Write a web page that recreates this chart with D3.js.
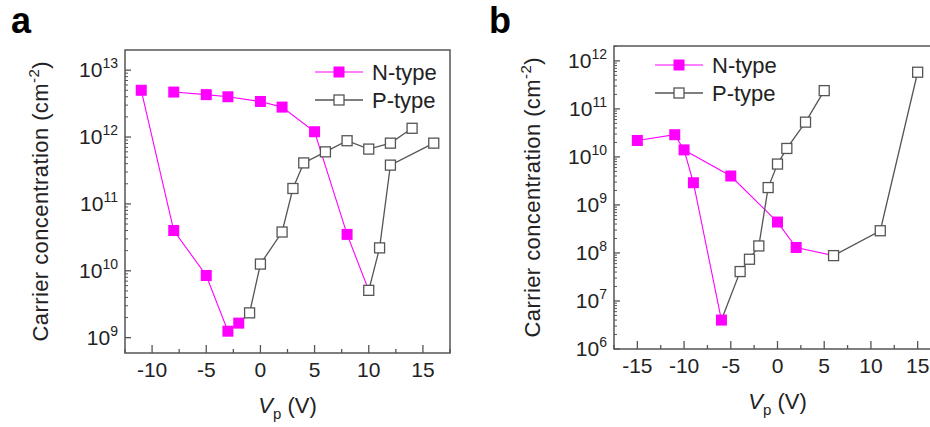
<!DOCTYPE html>
<html><head><meta charset="utf-8">
<script src="https://cdn.jsdelivr.net/npm/d3@7"></script>
<style>
body { margin: 0; background: #fff; }
svg { display: block; font-family: Arial, "Liberation Sans", sans-serif; }
</style>
</head><body>
<svg id="fig" width="930" height="427"></svg>
<script>
// ---- panel a : Vp (V), carrier concentration (cm^-2)
var nA_sweep1 = [[-11, 5e12], [-8, 4e10], [-5, 8.5e9], [-3, 1.25e9], [-2, 1.65e9]];
var nA_sweep2 = [[-8, 4.7e12], [-5, 4.3e12], [-3, 4e12], [0, 3.4e12], [2, 2.8e12], [5, 1.2e12], [8, 3.5e10]];
var pA_sweep1 = [[-1, 2.35e9], [0, 1.26e10], [2, 3.8e10], [3, 1.7e11], [4, 4.1e11], [6, 6e11], [8, 8.8e11], [10, 6.6e11], [12, 8.1e11], [14, 1.35e12]];
var pA_sweep2 = [[10, 5.1e9], [11, 2.2e10], [12, 3.8e11], [16, 8.1e11]];
var xTicksA = [-10, -5, 0, 5, 10, 15];
var decadesA = [9, 10, 11, 12, 13];

// ---- panel b
var nB_sweep1 = [[-15, 2.2e10], [-11, 2.9e10], [-10, 1.4e10], [-9, 2.9e9], [-6, 4e6]];
var nB_sweep2 = [[-5, 4e9], [0, 4.4e8], [2, 1.3e8]];
var pB_sweep1 = [[-4, 4.1e7], [-3, 7.4e7], [-2, 1.4e8], [-1, 2.3e9], [0, 7.1e9], [1, 1.5e10], [3, 5.3e10], [5, 2.4e11]];
var pB_sweep2 = [[6, 8.8e7], [11, 2.9e8], [15, 5.8e11]];
var xTicksB = [-15, -10, -5, 0, 5, 10, 15];
var decadesB = [6, 7, 8, 9, 10, 11, 12];

var legendNames = ["N-type", "P-type"];

var svg = d3.select("#fig");
var pink = "#ff00ff", grey = "#555", txt = "#222";

function drawPanel(cfg) {
  var x = d3.scaleLinear().domain(cfg.xDomain).range([cfg.left, cfg.right]);
  var y = d3.scaleLog().domain(cfg.yDomain).range([cfg.bottom, cfg.top]);
  var g = svg.append("g");

  var line = d3.line().x(function (d) { return x(d[0]) }).y(function (d) { return y(d[1]) });

  // lines (each series keeps its own colour, joined to the point where the sweep turns)
  cfg.nLines.forEach(function (pts) {
    g.append("path").attr("d", line(pts)).attr("fill", "none").attr("stroke", pink).attr("stroke-width", 1.1);
  });
  cfg.pLines.forEach(function (pts) {
    g.append("path").attr("d", line(pts)).attr("fill", "none").attr("stroke", grey).attr("stroke-width", 1.3);
  });

  var s = 11;
  g.selectAll(".nm").data(cfg.nPts).enter().append("rect")
    .attr("x", function (d) { return x(d[0]) - s / 2 })
    .attr("y", function (d) { return y(d[1]) - s / 2 })
    .attr("width", s).attr("height", s).attr("fill", pink);
  var sp = 10;
  g.selectAll(".pm").data(cfg.pPts).enter().append("rect")
    .attr("x", function (d) { return x(d[0]) - sp / 2 })
    .attr("y", function (d) { return y(d[1]) - sp / 2 })
    .attr("width", sp).attr("height", sp).attr("fill", "#fff")
    .attr("stroke", grey).attr("stroke-width", 1.3);

  // frame
  g.append("rect").attr("x", cfg.left).attr("y", cfg.top)
    .attr("width", cfg.right - cfg.left).attr("height", cfg.bottom - cfg.top)
    .attr("fill", "none").attr("stroke", grey).attr("stroke-width", 1.5);

  // x ticks, inside
  var step = cfg.xTicks[1] - cfg.xTicks[0];
  var minorX = d3.range(cfg.xDomain[0], cfg.xDomain[1] + 0.01, step / 2)
    .filter(function (v) { return cfg.xTicks.indexOf(v) < 0 });
  g.selectAll(".xt").data(cfg.xTicks).enter().append("line")
    .attr("x1", function (d) { return x(d) }).attr("x2", function (d) { return x(d) })
    .attr("y1", cfg.bottom).attr("y2", cfg.bottom - 8)
    .attr("stroke", grey).attr("stroke-width", 1.3);
  g.selectAll(".xm").data(minorX).enter().append("line")
    .attr("x1", function (d) { return x(d) }).attr("x2", function (d) { return x(d) })
    .attr("y1", cfg.bottom).attr("y2", cfg.bottom - 4)
    .attr("stroke", grey).attr("stroke-width", 1.3);
  g.selectAll(".xl").data(cfg.xTicks).enter().append("text")
    .attr("x", function (d) { return x(d) }).attr("y", cfg.bottom + 24)
    .attr("text-anchor", "middle").attr("font-size", 21).attr("fill", txt)
    .text(function (d) { return d });

  // y ticks, inside, log minors
  var minorY = [];
  cfg.decades.forEach(function (e) {
    for (var m = 2; m <= 9; m++) {
      var v = m * Math.pow(10, e);
      if (v < cfg.yDomain[1]) minorY.push(v);
    }
  });
  g.selectAll(".yt").data(cfg.decades).enter().append("line")
    .attr("x1", cfg.left).attr("x2", cfg.left + 6)
    .attr("y1", function (d) { return y(Math.pow(10, d)) }).attr("y2", function (d) { return y(Math.pow(10, d)) })
    .attr("stroke", grey).attr("stroke-width", 1.3);
  g.selectAll(".ym").data(minorY).enter().append("line")
    .attr("x1", cfg.left).attr("x2", cfg.left + 3)
    .attr("y1", function (d) { return y(d) }).attr("y2", function (d) { return y(d) })
    .attr("stroke", grey).attr("stroke-width", 1);
  var yl = g.selectAll(".yl").data(cfg.decades).enter().append("text")
    .attr("x", cfg.left - 7).attr("y", function (d) { return y(Math.pow(10, d)) + 7 })
    .attr("text-anchor", "end").attr("font-size", 21).attr("fill", txt);
  yl.append("tspan").text("10");
  yl.append("tspan").attr("dy", -9).attr("font-size", 14).text(function (d) { return d });

  // axis titles
  var xt = g.append("text").attr("x", (cfg.left + cfg.right) / 2).attr("y", cfg.bottom + 60)
    .attr("text-anchor", "middle").attr("font-size", 22).attr("fill", txt);
  xt.append("tspan").attr("font-style", "italic").text("V");
  xt.append("tspan").attr("dy", 6).attr("font-size", 15).text("p");
  xt.append("tspan").attr("dy", -6).text(" (V)");

  var cy = (cfg.top + cfg.bottom) / 2;
  var yt = g.append("text")
    .attr("transform", "translate(" + (cfg.left - cfg.yTitleOff) + "," + cy + ") rotate(-90)")
    .attr("text-anchor", "middle").attr("font-size", 22).attr("fill", txt)
    .attr("textLength", 280).attr("lengthAdjust", "spacing");
  yt.append("tspan").text("Carrier concentration (cm");
  yt.append("tspan").attr("dy", -9).attr("font-size", 15).text("-2");
  yt.append("tspan").attr("dy", 9).text(")");

  // legend
  var lg = g.append("g").attr("transform", "translate(" + cfg.legX + "," + cfg.legY + ")");
  legendNames.forEach(function (name, i) {
    var ly = i * 28;
    var col = i === 0 ? pink : grey;
    lg.append("line").attr("x1", 0).attr("x2", 48).attr("y1", ly).attr("y2", ly)
      .attr("stroke", col).attr("stroke-width", i === 0 ? 1.1 : 1.3);
    if (i === 0) {
      lg.append("rect").attr("x", 24 - s / 2).attr("y", ly - s / 2).attr("width", s).attr("height", s).attr("fill", pink);
    } else {
      lg.append("rect").attr("x", 24 - sp / 2).attr("y", ly - sp / 2).attr("width", sp).attr("height", sp)
        .attr("fill", "#fff").attr("stroke", grey).attr("stroke-width", 1.3);
    }
    lg.append("text").attr("x", 57).attr("y", ly + 7.5).attr("font-size", 22).attr("fill", txt).text(name);
  });

  // panel letter
  svg.append("text").attr("x", cfg.letterX).attr("y", 33)
    .attr("font-size", 36).attr("font-weight", "bold").attr("fill", "#000").text(cfg.letter);
}

drawPanel({
  letter: "a", letterX: 11,
  left: 125, right: 450, top: 50, bottom: 353,
  xDomain: [-12.5, 17.5], yDomain: [5.9e8, 2e13],
  xTicks: xTicksA, decades: decadesA, yTitleOff: 77,
  nLines: [nA_sweep1, nA_sweep2.concat([pA_sweep2[0]])],
  pLines: [[nA_sweep1[nA_sweep1.length - 1]].concat(pA_sweep1), pA_sweep2],
  nPts: nA_sweep1.concat(nA_sweep2), pPts: pA_sweep1.concat(pA_sweep2),
  legX: 315, legY: 72
});

drawPanel({
  letter: "b", letterX: 489,
  left: 614, right: 941, top: 46, bottom: 349,
  xDomain: [-17.5, 17.5], yDomain: [1e6, 2.04e12],
  xTicks: xTicksB, decades: decadesB, yTitleOff: 74,
  nLines: [nB_sweep1, [nB_sweep1[2]].concat(nB_sweep2, [pB_sweep2[0]])],
  pLines: [[nB_sweep1[nB_sweep1.length - 1]].concat(pB_sweep1), pB_sweep2],
  nPts: nB_sweep1.concat(nB_sweep2), pPts: pB_sweep1.concat(pB_sweep2),
  legX: 655, legY: 65
});
</script>
</body></html>
